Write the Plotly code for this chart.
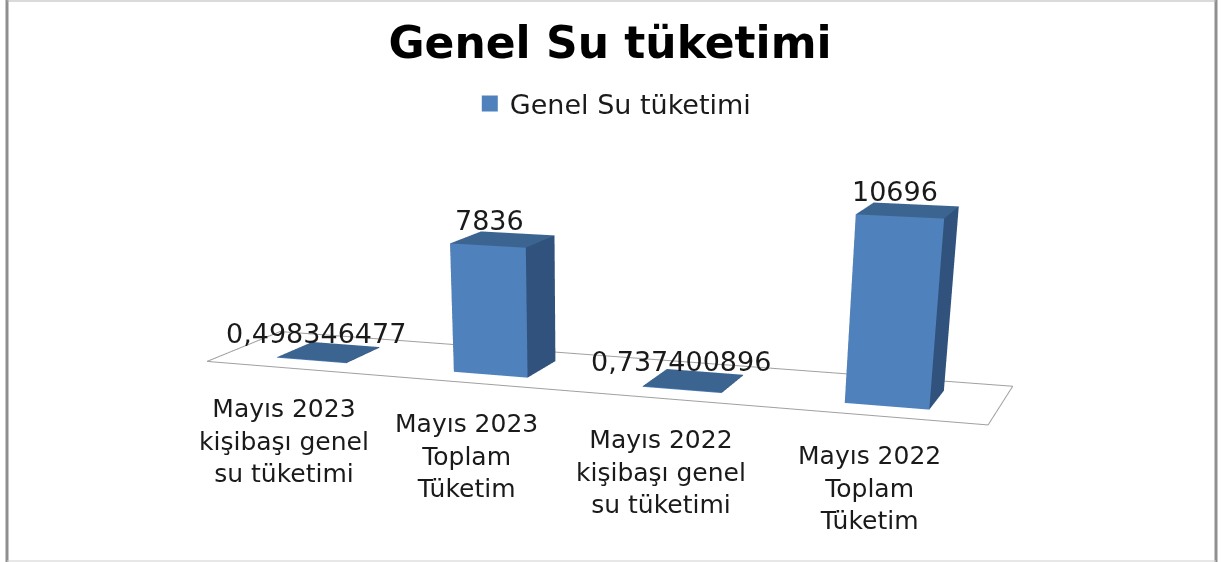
import plotly.graph_objects as go

categories = ["Mayıs 2023<br>kişibaşı genel<br>su tüketimi", "Mayıs 2023<br>Toplam<br>Tüketim",
              "Mayıs 2022<br>kişibaşı genel<br>su tüketimi", "Mayıs 2022<br>Toplam<br>Tüketim"]
values = [0.498346477, 7836, 0.737400896, 10696]
value_labels = ["0,498346477", "7836", "0,737400896", "10696"]
series_name = "Genel Su tüketimi"

ZMAX = 12000.0
FLOOR_Z = -40.0

# 3D view that reproduces the reference's perspective
EYE = (0.80434, -5.00176, 2.87840)
CENTER = (0.14434, -0.03834, 0.14297)
UP = (0.07212, -0.52504, 1.0)
A_X, A_Y, A_Z = 3.49868, 0.28652, 1.70040
BAR_W, BAR_D = 0.09955, 0.49908
SH, SH2, KX, KY = 0.05700, -0.03379, -0.01876, 2.16304


def wx(q, y, z):
    return 2 + 2 * ((q - 2) / 2 + SH * 2 * y + KX * z / ZMAX)


def wy(q, y, z):
    return (2 * y + SH2 * (q - 2) / 2 + KY * z / ZMAX) / 2


def bar_mesh(idx, h):
    x0, x1 = idx + .5 - BAR_W * 2, idx + .5 + BAR_W * 2
    y0, y1 = -BAR_D / 2, BAR_D / 2
    b = FLOOR_Z
    qs = [x0, x1, x1, x0, x0, x1, x1, x0]
    ys = [y0, y0, y1, y1, y0, y0, y1, y1]
    zs = [b, b, b, b, h, h, h, h]
    face_colors = ["#4f81bd"] * 2 + ["#30527c"] * 2 + ["#3c6491"] * 2 + ["#30527c"] * 4
    return go.Mesh3d(
        x=[wx(a, c, d) for a, c, d in zip(qs, ys, zs)],
        y=[wy(a, c, d) for a, c, d in zip(qs, ys, zs)],
        z=zs,
        i=[0, 0, 1, 1, 4, 4, 3, 3, 0, 0],
        j=[1, 5, 2, 6, 5, 6, 2, 6, 3, 7],
        k=[5, 4, 6, 5, 6, 7, 6, 7, 7, 4],
        facecolor=face_colors, flatshading=True, showlegend=False, hoverinfo="skip",
        lighting=dict(ambient=1, diffuse=0, specular=0, roughness=1, fresnel=0))


fig = go.Figure()
fq = [0, 4, 4, 0, 0]
fy = [-.5, -.5, .5, .5, -.5]
fig.add_trace(go.Scatter3d(
    x=[wx(a, c, 0) for a, c in zip(fq, fy)], y=[wy(a, c, 0) for a, c in zip(fq, fy)], z=[FLOOR_Z] * 5,
    mode="lines", line=dict(color="#a0a0a0", width=2), hoverinfo="skip", showlegend=False))
for i, v in enumerate(values):
    fig.add_trace(bar_mesh(i, v))
fig.add_trace(go.Scatter3d(x=[None], y=[None], z=[None], mode="markers", name=series_name,
                           marker=dict(symbol="square", size=16, color="#4f81bd")))

ann = []
for i, (v, l, c_) in enumerate(zip(values, value_labels, categories)):
    ann.append(dict(x=wx(i + .5, 0, v), y=wy(i + .5, 0, v), z=v, text=l, showarrow=False, xshift=-13, yshift=19,
                    font=dict(size=27, color="#1a1a1a", family="DejaVu Sans")))
    ann.append(dict(x=wx(i + .5, -.5, 0), y=wy(i + .5, -.5, 0), z=0, text=c_, showarrow=False, xshift=-9, yshift=-73,
                    font=dict(size=25, color="#1a1a1a", family="DejaVu Sans")))

ax = dict(visible=False, showspikes=False)


def ln(x0, y0, x1, y1, c, w):
    return dict(type="line", xref="paper", yref="paper", x0=x0 / 1225, x1=x1 / 1225,
                y0=1 - y0 / 562, y1=1 - y1 / 562, line=dict(color=c, width=w))


fig.update_layout(
    width=1225, height=562, margin=dict(l=0, r=0, t=0, b=0), paper_bgcolor="white",
    font=dict(family="DejaVu Sans"),
    title=dict(text="<b>Genel Su tüketimi</b>", x=0.498, xanchor="center", y=0.925, yanchor="middle",
               font=dict(size=44, color="black", family="DejaVu Sans")),
    legend=dict(x=0.3835, y=0.815, xanchor="left", yanchor="middle",
                font=dict(size=27, color="#1a1a1a"), bgcolor="rgba(0,0,0,0)"),
    scene=dict(
        domain=dict(x=[0, 1], y=[0, 1]),
        xaxis=dict(ax, range=[-2, 6]), yaxis=dict(ax, range=[-2, 2]), zaxis=dict(ax, range=[-500, ZMAX + 500]),
        aspectmode="manual",
        aspectratio=dict(x=4 * A_X, y=8 * A_Y, z=A_Z * (ZMAX + 1000) / ZMAX),
        camera=dict(eye=dict(x=EYE[0], y=EYE[1], z=EYE[2]),
                    center=dict(x=CENTER[0], y=CENTER[1], z=CENTER[2]),
                    up=dict(x=UP[0], y=UP[1], z=UP[2]),
                    projection=dict(type="perspective")),
        annotations=ann),
    shapes=[ln(7, 0, 7, 562, "#8f8f8f", 3), ln(1216, 0, 1216, 562, "#8f8f8f", 3),
            ln(7, 1, 1216, 1, "#b5b5b5", 1), ln(7, 561, 1216, 561, "#d0d0d0", 1)])

fig.write_html("out.html", config=dict(displayModeBar=False),
               post_script="document.body.style.margin='0';document.documentElement.style.overflow='hidden';")
